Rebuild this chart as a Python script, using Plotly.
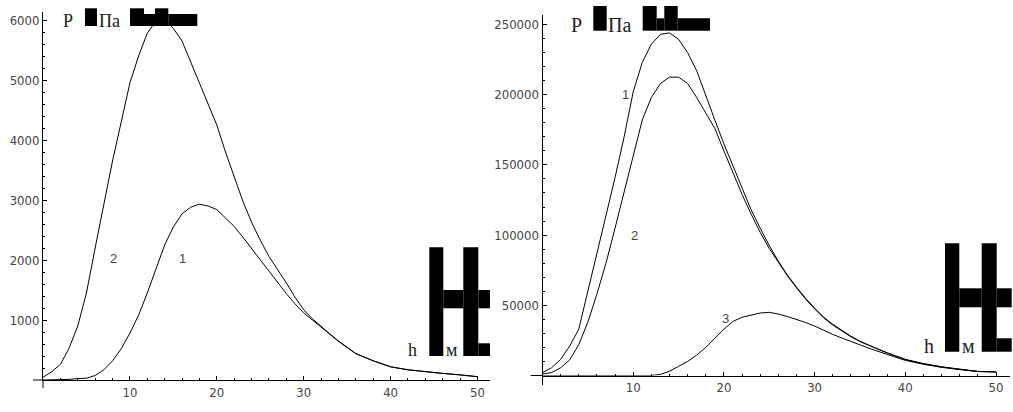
import plotly.graph_objects as go

# ---------------- data ----------------
h_km = [0, 1, 2, 3, 4, 5, 6, 7, 8, 9, 10, 11, 12, 13, 14, 15, 16, 17, 18, 19,
        20, 21, 22, 23, 24, 25, 26, 27, 28, 29, 30, 31, 32, 33, 34, 35, 36,
        38, 40, 42, 44, 46, 48, 50]

# left panel, P in Pa
left_curve1 = [0, 0, 0, 10, 25, 30, 75, 170, 320, 520, 780, 1080, 1450, 1850, 2250,
               2550, 2770, 2880, 2930, 2900, 2840, 2700, 2560, 2380, 2190, 2010,
               1830, 1640, 1440, 1270, 1120, 1000, 880, 760, 645, 540, 440,
               320, 220, 170, 135, 110, 85, 55]
left_curve2 = [45, 138, 260, 530, 900, 1450, 2200, 2950, 3650, 4300, 4950, 5400,
               5780, 5980, 6000, 5860, 5650, 5300, 4950, 4620, 4250, 3800, 3380,
               2980, 2630, 2330, 2060, 1850, 1620, 1380, 1170, 1020, 890, 770, 650,
               540, 440, 320, 220, 170, 135, 110, 85, 55]

# right panel, P in Pa
right_curve1 = [2100, 5500, 11500, 21000, 33000, 60000, 86000, 113000, 141000,
                170000, 202000, 223000, 236000, 243000, 244000, 239500, 230000,
                217000, 199000, 182000, 165000, 149000, 133000, 118000, 105000,
                92500, 81500, 71500, 63000, 55000, 48000, 41500, 36500, 32000,
                28000, 24500, 21500, 16200, 11500, 8500, 6200, 4500, 2900, 2700]
right_curve2 = [1000, 2100, 5500, 11200, 22000, 38000, 58000, 80000, 105000,
                131000, 158000, 182000, 198000, 208000, 212500, 212500, 208000,
                198000, 187000, 176000, 160000, 144000, 129000, 115000, 102000,
                90500, 80500, 71000, 62500, 54500, 47500, 41000, 36000, 31500,
                27600, 24200, 21300, 16000, 11300, 8300, 6100, 4400, 2800, 2600]
right_curve3 = [0, 0, 0, 0, 0, 0, 0, 0, 0, 0, 0, 0, 0, 800, 3000, 6500, 10000,
                14500, 20000, 26500, 33000, 38500, 41500, 43000, 44500, 45000,
                43800, 42000, 40000, 37800, 35200, 32000, 29300, 26700, 24200,
                21700, 19400, 15000, 10800, 8000, 5800, 4200, 2900, 2500]

x_ticks = [10, 20, 30, 40, 50]
x_minor_step = 2
left_y_ticks = [1000, 2000, 3000, 4000, 5000, 6000]
left_y_minor_step = 200
right_y_ticks = [50000, 100000, 150000, 200000, 250000]
right_y_minor_step = 10000

left_labels = [("2", 8.06, 2033), ("1", 16.1, 2033)]
right_labels = [("1", 9.1, 199800), ("2", 10.1, 100000), ("3", 20.2, 40900)]

# ---------------- layout helpers ----------------
W, H = 1013, 412


def xp(px):
    return px / W


def yp(py):
    return 1 - py / H


TICK_FONT = dict(family="Liberation Sans Narrow, DejaVu Sans Condensed, Arial Narrow, sans-serif",
                 size=13, color="#444444")
LABEL_FONT = dict(family="Liberation Sans, DejaVu Sans, sans-serif", size=13, color="#444444")
SERIF = "Liberation Serif, DejaVu Serif, serif"

fig = go.Figure()

line_style = dict(color="black", width=1)
for ys in (left_curve1, left_curve2):
    fig.add_trace(go.Scatter(x=h_km, y=ys, mode="lines", line=line_style,
                             xaxis="x", yaxis="y", showlegend=False, hoverinfo="skip"))
for ys in (right_curve1, right_curve2, right_curve3):
    fig.add_trace(go.Scatter(x=h_km, y=ys, mode="lines", line=line_style,
                             xaxis="x2", yaxis="y2", showlegend=False, hoverinfo="skip"))

shapes = []


def make_axes(xname, yname, px_lo, px_hi, px_x0, px_x50, py_top, py_bot, py_y0,
              py_ytop, ytop_val, yticks, ystep):
    sx = (px_x50 - px_x0) / 50.0
    sy = (py_y0 - py_ytop) / ytop_val
    xa = dict(domain=[xp(px_x0), xp(px_hi)],
              range=[0, (px_hi - px_x0) / sx],
              anchor=yname,
              showline=True, linecolor="black", linewidth=1,
              showgrid=False, zeroline=False,
              tickmode="array", tickvals=x_ticks, ticktext=[str(v) for v in x_ticks],
              ticks="inside", ticklen=4, tickcolor="black", tickwidth=1,
              tickfont=TICK_FONT,
              minor=dict(ticks="inside", ticklen=2, tickcolor="black",
                         dtick=x_minor_step, tick0=0, showgrid=False))
    ya = dict(domain=[yp(py_y0), yp(py_top)],
              range=[0, (py_y0 - py_top) / sy],
              anchor=xname,
              showline=True, linecolor="black", linewidth=1,
              showgrid=False, zeroline=False,
              tickmode="array", tickvals=yticks, ticktext=[str(v) for v in yticks],
              ticks="inside", ticklen=4, tickcolor="black", tickwidth=1,
              tickfont=TICK_FONT,
              minor=dict(ticks="inside", ticklen=2, tickcolor="black",
                         dtick=ystep, tick0=0, showgrid=False))
    # short axis extensions past the origin (axes cross at the origin)
    shapes.append(dict(type="line", xref="paper", yref="paper",
                       x0=xp(px_lo), x1=xp(px_x0), y0=yp(py_y0), y1=yp(py_y0),
                       line=dict(color="black", width=1)))
    shapes.append(dict(type="line", xref="paper", yref="paper",
                       x0=xp(px_x0), x1=xp(px_x0), y0=yp(py_y0), y1=yp(py_bot),
                       line=dict(color="black", width=1)))
    return xa, ya


xa1, ya1 = make_axes("x", "y", 33, 490, 43, 477.5, 12, 388, 380, 20, 6000,
                     left_y_ticks, left_y_minor_step)
xa2, ya2 = make_axes("x2", "y2", 530.7, 1010, 542.5, 996, 15, 385, 375.5, 24.5, 250000,
                     right_y_ticks, right_y_minor_step)

annotations = []
for t, x, y in left_labels:
    annotations.append(dict(text=t, x=x, y=y, xref="x", yref="y", showarrow=False,
                            font=LABEL_FONT, xanchor="center", yanchor="middle"))
for t, x, y in right_labels:
    annotations.append(dict(text=t, x=x, y=y, xref="x2", yref="y2", showarrow=False,
                            font=LABEL_FONT, xanchor="center", yanchor="middle"))


def ptext(text, cx, baseline, size):
    annotations.append(dict(text=text, x=xp(cx), y=yp(baseline - 0.3 * size),
                            xref="paper", yref="paper", showarrow=False,
                            font=dict(family=SERIF, size=size, color="#222222"),
                            xanchor="center", yanchor="middle"))


# axis titles (left)
ptext("P", 68, 26.5, 18)
ptext("Па", 109, 26.5, 18)
ptext("h", 412.5, 355, 18)
ptext("м", 451.5, 355, 18)
# axis titles (right)
ptext("P", 576.5, 30.5, 20)
ptext("Па", 619, 30.5, 20)
ptext("h", 929, 351.7, 20)
ptext("м", 968, 351.7, 20)

# black glyph blocks (missing-glyph boxes in the original rendering)
blocks = [
    (85, 8.3, 97, 26), (130, 8.3, 144, 26), (144, 14, 155, 26), (155, 8.3, 168.3, 26),
    (168.3, 14, 197.3, 26),
    (429.3, 247.3, 443.3, 356), (443.3, 290, 463.3, 308.3), (463.3, 247.3, 478.3, 356),
    (478.3, 290, 490, 308.3), (478.3, 343.3, 490, 356),
    (593.3, 6, 606.7, 30.7), (642.7, 6, 656.7, 30.7), (656.7, 18.3, 664.3, 30.7),
    (664.3, 6, 677.7, 30.7), (677.7, 18.3, 710, 30.7),
    (945, 243.3, 959.3, 351.7), (959.3, 288.3, 981.7, 307.3), (981.7, 243.3, 996.7, 351.7),
    (996.7, 288.3, 1011.7, 307.3), (996.7, 338.3, 1011.7, 351.7),
]
shapes += [dict(type="rect", xref="paper", yref="paper", x0=xp(a), x1=xp(c),
                y0=yp(d), y1=yp(b), fillcolor="black", line=dict(width=0), layer="above")
           for a, b, c, d in blocks]

fig.update_layout(width=W, height=H, margin=dict(l=0, r=0, t=0, b=0),
                  paper_bgcolor="white", plot_bgcolor="white",
                  xaxis=xa1, yaxis=ya1, xaxis2=xa2, yaxis2=ya2,
                  annotations=annotations, shapes=shapes, showlegend=False)

fig.write_html("out.html")
